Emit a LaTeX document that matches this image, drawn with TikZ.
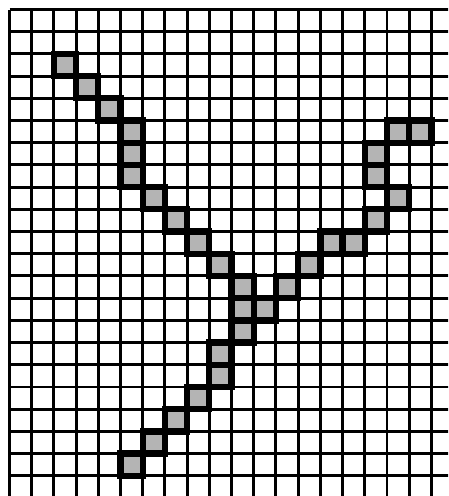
\documentclass[tikz,border=0pt]{standalone}
\usetikzlibrary{calc}
\definecolor{ink}{HTML}{000000}
\definecolor{pixelgray}{HTML}{B4B4B4}
\tikzset{
  gridline/.style={draw=ink,line width=1.9pt},
  hitcell/.style={fill=pixelgray,draw=ink,line width=4pt}}
\begin{document}
\begin{tikzpicture}[x=.5cm,y=-.5cm]
\useasboundingbox(-.43,-.43)rectangle(19.75,21.91);
\clip(-.43,-.43)rectangle(19.75,21.91);
\foreach \i in {0,...,20}
  \draw[gridline](\i,0)--(\i,23);
\foreach \j in {0,...,22}
  \draw[gridline](0,\j)--(21,\j);
% left arm and stem
\foreach \c/\r in {2/2,3/3,4/4,5/5,5/6,5/7,6/8,7/9,8/10,9/11,10/12,10/13,10/14,
  9/15,9/16,8/17,7/18,6/19,5/20}
  \draw[hitcell](\c,\r)rectangle+(1,1);
% right arm
\foreach \c/\r in {17/5,18/5,16/6,16/7,17/8,16/9,15/10,14/10,13/11,12/12,11/13}
  \draw[hitcell](\c,\r)rectangle+(1,1);
\end{tikzpicture}
\end{document}
